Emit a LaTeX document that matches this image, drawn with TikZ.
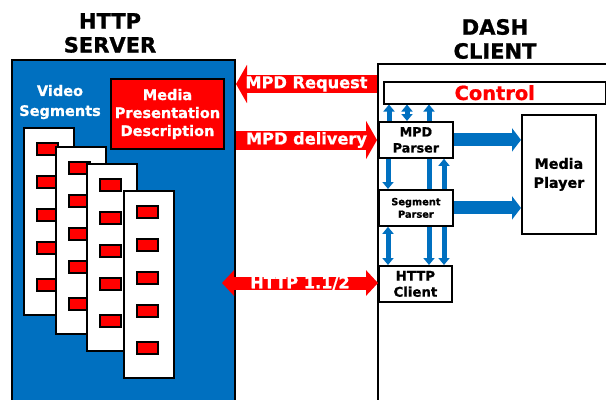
\documentclass[tikz,border=0pt]{standalone}
\usepackage{fontspec}
\setmainfont[BoldFeatures={FakeBold=1}]{DejaVu Sans}
\usetikzlibrary{arrows.meta,positioning,backgrounds}
\definecolor{dashblue}{RGB}{0,112,192}
\definecolor{dashred}{RGB}{255,0,0}
\newcommand\fsz[2]{\fontsize{#1bp}{#2bp}\selectfont}

\begin{document}
\begin{tikzpicture}[x=1bp,y=-1bp,
  box/.style={draw, fill=white, line width=1.8bp, inner sep=0pt, anchor=north west, align=center},
  page/.style={draw, fill=white, line width=1.5bp, inner sep=0pt,
    minimum width=50bp, minimum height=187bp, anchor=north west},
  seg/.style={draw, fill=dashred, line width=1.5bp, inner sep=0pt,
    minimum width=21bp, minimum height=12bp},
  title/.style={font=\fsz{21}{24}\bfseries, align=center},
  redarrow/.style={dashred, line width=#1},
  arrowtext/.style={midway, text=white, font=\fsz{16.2}{18}\bfseries},
  bluearrow/.style={dashblue, line width=5bp},
  fatarrow/.style={dashblue, line width=13bp, -FatTip},
  BlueTip/.tip={Triangle[length=7bp,width=11bp]},
  FatTip/.tip={Triangle[length=9bp,width=23bp]},
  RedTip/.tip={Triangle[length=11bp,width=38bp]},
  HttpTip/.tip={Triangle[length=12bp,width=25bp]}]
  \useasboundingbox (0,0) rectangle (606,399);
  \clip (0,0) rectangle (606,399);

  % server side
  \node[title] (srvtitle) at (110,33) {HTTP\\SERVER};
  \node[box, fill=dashblue, line width=2bp, minimum width=223bp, minimum height=360bp] (server) at (11,59) {};
  \node[text=white, align=center, font=\fsz{14.5}{20}\bfseries] (vidtext) at (60,102) {Video\\Segments};
  \node[box, fill=dashred, text=white, line width=2bp, minimum width=113bp, minimum height=70bp,
    font=\fsz{14.5}{18}\bfseries] (mpdfile) at (110,78) {Media\\Presentation\\Description};
  \foreach \px/\py [count=\i] in {23/127,55/146,86/163,123/190}{
    \node[page] (page\i) at (\px,\py) {};
    \foreach \dy [count=\j] in {22,55,88,121,158}
      \node[seg] (seg\i\j) at (\px+24.5,\py+\dy) {};
  }

  % client side
  \node[title] (clititle) at (495,39) {DASH\\CLIENT};
  \node[box, fill=none, line width=1.5bp, minimum width=240bp, minimum height=360bp] (client) at (377,63) {};
  \node[box, line width=1.5bp, minimum width=222bp, minimum height=22bp, text=dashred,
    font=\fsz{19.4}{22}\bfseries] (control) at (383,81) {Control};
  \node[box, minimum width=74bp, minimum height=36bp, font=\fsz{12.7}{16}\bfseries] (mpd) at (378,121) {MPD\\Parser};
  \node[box, minimum width=74bp, minimum height=36bp, font=\fsz{9.8}{12.5}\bfseries] (segp) at (378,189) {Segment\\Parser};
  \node[box, minimum width=73bp, minimum height=36bp, font=\fsz{13.3}{16}\bfseries] (httpc) at (378,265) {HTTP\\Client};
  \node[box, minimum width=74bp, minimum height=119bp, font=\fsz{14.3}{19}\bfseries] (player) at (521,114) {Media\\Player};

  \begin{scope}[on background layer]
    \draw[bluearrow, BlueTip-] (389,0 |- control.south) -- (389,0 |- mpd.north);
    \draw[bluearrow, -BlueTip] (388,0 |- mpd.south) -- (388,0 |- segp.north);
    \draw[bluearrow, BlueTip-BlueTip] (388,0 |- segp.south) -- (388,0 |- httpc.north);
    \draw[bluearrow, BlueTip-BlueTip] (407,0 |- control.south) -- (407,0 |- mpd.north);
    \draw[bluearrow, BlueTip-BlueTip] (429,0 |- control.south) -- (429,0 |- httpc.north);
    \draw[bluearrow, BlueTip-BlueTip] (444,0 |- mpd.south) -- (444,0 |- httpc.north);
  \end{scope}
  \draw[fatarrow] (mpd.east) -- (player.west |- mpd.east);
  \draw[fatarrow] (segp.east) -- (player.west |- segp.east);

  % messages
  \draw[redarrow=18bp, RedTip-] (server.east |- 0,84) -- (client.west |- 0,84)
    node[arrowtext] {MPD Request};
  \draw[redarrow=19bp, -RedTip] (server.east |- 0,140) -- (client.west |- 0,140)
    node[arrowtext] {MPD delivery};
  \draw[redarrow=13bp, HttpTip-HttpTip] (222,283) -- (httpc.west |- 0,283)
    node[arrowtext] {HTTP 1.1/2};
\end{tikzpicture}
\end{document}
